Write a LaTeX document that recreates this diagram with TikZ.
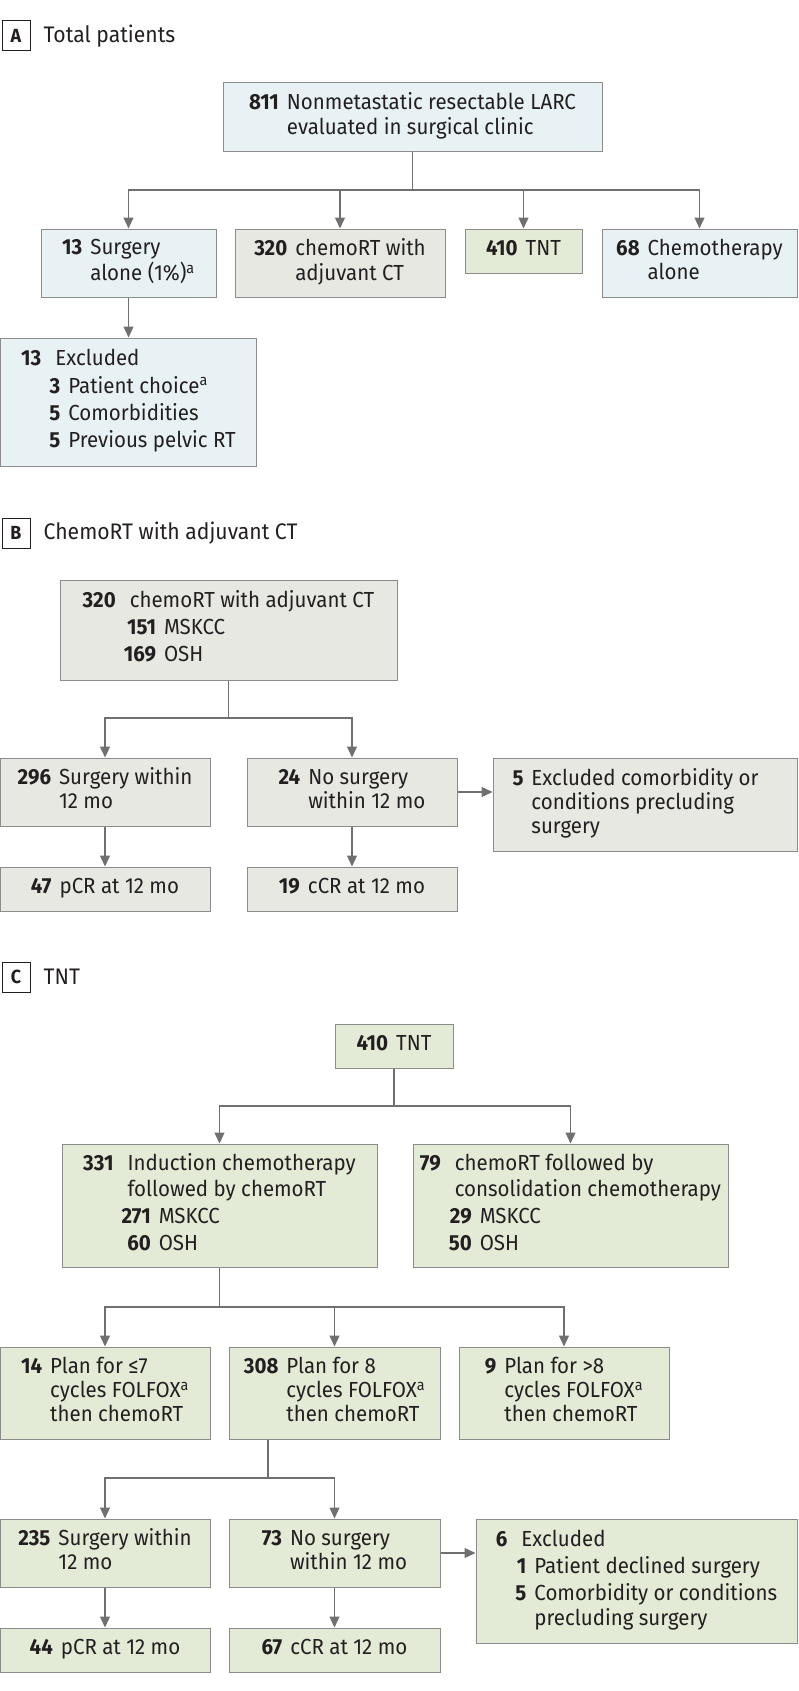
\documentclass[tikz,border=0pt]{standalone}
\usepackage{fontspec}
\setmainfont{Fira Sans}[FakeStretch=0.94]
\usetikzlibrary{positioning,arrows.meta}
\definecolor{fcblue}{RGB}{232,242,244}
\definecolor{fcgray}{RGB}{232,232,226}
\definecolor{fcgreen}{RGB}{227,235,214}
\definecolor{fcedge}{RGB}{140,140,140}
\definecolor{fcline}{RGB}{112,112,112}
\definecolor{fctext}{RGB}{35,31,32}
\newcommand{\ngap}{\hspace{8pt}}
\newcommand{\numtab}[1]{\begin{tabular}{@{}r@{\ngap}l@{}}#1\end{tabular}}
\newcommand{\subtab}[1]{\begin{tabular}{@{}r@{\ngap}r@{\ngap}l@{}}#1\end{tabular}}

\begin{document}
\begin{tikzpicture}[
  x=1pt, y=-1pt,
  box/.style={draw=fcedge, line width=1pt, inner sep=0pt, align=center, text=fctext,
              font=\fontsize{21.8}{24}\selectfont},
  bbox/.style={box, fill=fcblue},
  gbox/.style={box, fill=fcgray},
  tbox/.style={box, fill=fcgreen},
  panel/.style={draw=fctext, line width=1pt, minimum width=28pt, minimum height=30pt,
                inner sep=0pt, text=fctext, font=\fontsize{19}{20}\selectfont\bfseries},
  head/.style={inner sep=0pt, text=fctext, font=\fontsize{22.5}{26}\selectfont},
  link/.style={draw=fcline, line width=1.2pt},
  line/.style={link, -{Triangle[length=11pt, width=10pt]}},
]
\useasboundingbox (0,0) rectangle (798,1691);

% A: total patients
\node[panel] (labA) at (16,36) {A};
\node[head, right=13pt of labA] (headA) {Total patients};
\node[bbox, minimum width=379pt, minimum height=68pt] (top) at (412.5,117)
  {\numtab{\textbf{811} & Nonmetastatic resectable LARC\\ & evaluated in surgical clinic}};
\node[bbox, minimum width=175pt, minimum height=68pt] (sa) at (128.5,263)
  {\numtab{\textbf{13} & Surgery\\ & alone (1\%)\textsuperscript{a}}};
\node[gbox, minimum width=210pt, minimum height=68pt, right=18pt of sa.north east, anchor=north west] (crt)
  {\numtab{\textbf{320} & chemoRT with\\ & adjuvant CT}};
\node[tbox, minimum width=117pt, minimum height=44pt, right=19pt of crt.north east, anchor=north west] (tnt)
  {\numtab{\textbf{410} & TNT}};
\node[bbox, minimum width=195pt, minimum height=68pt, right=19pt of tnt.north east, anchor=north west] (cta)
  {\numtab{\textbf{68} & Chemotherapy\\ & alone}};
\node[bbox, minimum width=256pt, minimum height=128pt, below=40pt of sa] (exA)
  {\subtab{\textbf{13} & \multicolumn{2}{l@{}}{Excluded}\\[3pt]
    & \textbf{3} & Patient choice\textsuperscript{a}\\[3pt]
    & \textbf{5} & Comorbidities\\[3pt]
    & \textbf{5} & Previous pelvic RT}};

\coordinate (ja) at (412,190);
\draw[link] (top.south) -- (top.south |- ja);
\draw[line] (top.south |- ja) -| (sa.north);
\draw[line] (top.south |- ja) -| (crt.north);
\draw[line] (top.south |- ja) -| (tnt.north);
\draw[line] (top.south |- ja) -| (cta.north);
\draw[line] (sa.south) -- (sa.south |- exA.north);

% B: chemoRT with adjuvant CT
\node[panel] (labB) at (16,533) {B};
\node[head, right=13pt of labB] (headB) {ChemoRT with adjuvant CT};
\node[gbox, minimum width=337pt, minimum height=100pt] (bcrt) at (228.5,630)
  {\subtab{\textbf{320} & \multicolumn{2}{l@{}}{chemoRT with adjuvant CT}\\[3pt]
    & \textbf{151} & MSKCC\\[3pt]
    & \textbf{169} & OSH}};
\node[gbox, minimum width=210pt, minimum height=68pt] (b296) at (105,792)
  {\numtab{\textbf{296} & Surgery within\\ & 12 mo}};
\node[gbox, minimum width=210pt, minimum height=68pt, right=36pt of b296] (b24)
  {\numtab{\textbf{24} & No surgery\\ & within 12 mo}};
\node[gbox, minimum width=210pt, minimum height=44pt, below=40pt of b296] (bpcr)
  {\numtab{\textbf{47} & pCR at 12 mo}};
\node[gbox, minimum width=210pt, minimum height=44pt, below=40pt of b24] (bccr)
  {\numtab{\textbf{19} & cCR at 12 mo}};
\node[gbox, minimum width=304pt, minimum height=93pt, right=35pt of b24.north east, anchor=north west] (bexc)
  {\numtab{\textbf{5} & Excluded comorbidity or\\ & conditions precluding\\ & surgery}\hspace{19pt}};

\coordinate (jb) at (228,718);
\draw[link] (bcrt.south) -- (bcrt.south |- jb);
\draw[line] (bcrt.south |- jb) -| (b296.north);
\draw[line] (bcrt.south |- jb) -| (b24.north);
\draw[line] (b296) -- (bpcr);
\draw[line] (b24) -- (bccr);
\draw[line] (b24.east) -- (b24.east -| bexc.west);

% C: TNT
\node[panel] (labC) at (16,977) {C};
\node[head, right=13pt of labC] (headC) {TNT};
\node[tbox, minimum width=118pt, minimum height=44pt] (ctnt) at (394,1046)
  {\numtab{\textbf{410} & TNT}};
\node[tbox, minimum width=315pt, minimum height=123pt] (ind) at (219.5,1205.5)
  {\subtab{\textbf{331} & \multicolumn{2}{l@{}}{Induction chemotherapy}\\[2pt]
    & \multicolumn{2}{l@{}}{followed by chemoRT}\\[3pt]
    & \textbf{271} & MSKCC\\[3pt]
    & \textbf{60} & OSH}};
\node[tbox, minimum width=315pt, minimum height=123pt, right=35pt of ind] (cons)
  {\subtab{\textbf{79} & \multicolumn{2}{l@{}}{chemoRT followed by}\\[2pt]
    & \multicolumn{2}{l@{}}{consolidation chemotherapy}\\[3pt]
    & \textbf{29} & MSKCC\\[3pt]
    & \textbf{50} & OSH}};
\node[tbox, minimum width=210pt, minimum height=92pt] (p14) at (105,1393)
  {\numtab{\textbf{14} & Plan for ≤7\\ & cycles FOLFOX\textsuperscript{a}\\ & then chemoRT}};
\node[tbox, minimum width=211pt, minimum height=92pt, right=18pt of p14] (p308)
  {\numtab{\textbf{308} & Plan for 8\\ & cycles FOLFOX\textsuperscript{a}\\ & then chemoRT}};
\node[tbox, minimum width=210pt, minimum height=92pt, right=18pt of p308] (p9)
  {\numtab{\textbf{9} & Plan for >8\\ & cycles FOLFOX\textsuperscript{a}\\ & then chemoRT}};
\node[tbox, minimum width=210pt, minimum height=68pt, below=79pt of p14] (s235)
  {\numtab{\textbf{235} & Surgery within\\ & 12 mo}};
\node[tbox, minimum width=211pt, minimum height=68pt, below=79pt of p308] (n73)
  {\numtab{\textbf{73} & No surgery\\ & within 12 mo}};
\node[tbox, minimum width=210pt, minimum height=44pt, below=40pt of s235] (pcr44)
  {\numtab{\textbf{44} & pCR at 12 mo}};
\node[tbox, minimum width=211pt, minimum height=44pt, below=40pt of n73] (ccr67)
  {\numtab{\textbf{67} & cCR at 12 mo}};
\node[tbox, minimum width=321pt, minimum height=124pt, right=35pt of n73.north east, anchor=north west] (cexc)
  {\subtab{\textbf{6} & \multicolumn{2}{l@{}}{Excluded}\\[3pt]
    & \textbf{1} & Patient declined surgery\\[3pt]
    & \textbf{5} & Comorbidity or conditions\\
    & & precluding surgery}};

\coordinate (jc) at (394,1106);
\coordinate (jd) at (219,1307);
\coordinate (je) at (268,1478);
\draw[link] (ctnt.south) -- (ctnt.south |- jc);
\draw[line] (ctnt.south |- jc) -| (ind.north);
\draw[line] (ctnt.south |- jc) -| (cons.north);
\draw[link] (ind.south) -- (ind.south |- jd);
\draw[line] (ind.south |- jd) -| (p14.north);
\draw[line] (ind.south |- jd) -| (p308.north);
\draw[line] (ind.south |- jd) -| (p9.north);
\draw[link] (p308.south -| je) -- (je);
\draw[line] (je) -| (s235.north);
\draw[line] (je) -| (n73.north);
\draw[line] (s235) -- (pcr44);
\draw[line] (n73) -- (ccr67);
\draw[line] (n73.east) -- (n73.east -| cexc.west);
\end{tikzpicture}
\end{document}
